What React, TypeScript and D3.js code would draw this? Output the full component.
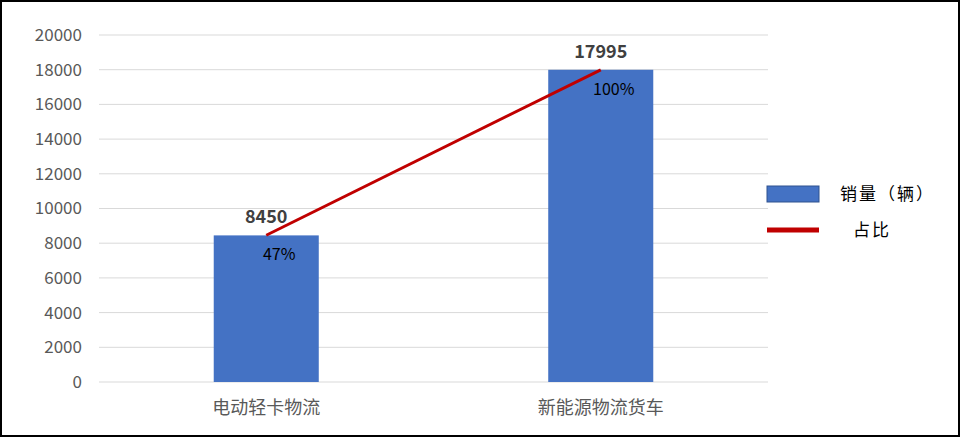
import React from "react";
import * as d3 from "d3";

const categories = ["电动轻卡物流", "新能源物流货车"];
const sales = [8450, 17995];
const shares = [47, 100];
const yTicks = [0, 2000, 4000, 6000, 8000, 10000, 12000, 14000, 16000, 18000, 20000];
const legendLabels = ["销量（辆）", "占比"];

const W = 961;
const H = 438;
const FONT = "'Noto Sans CJK SC', 'Noto Sans', sans-serif";

export default function App() {
  const left = 99, right = 768, top = 35, bottom = 382;
  const x = d3.scaleBand<string>().domain(categories).range([left, right]).padding(0);
  const barW = x.step() * 0.314;
  const y = d3.scaleLinear().domain([0, 20000]).range([bottom, top]);
  const y2 = d3.scaleLinear().domain([0, 100]).range([y(0), y(17995)]);
  const cx = (c: string) => (x(c) as number) + x.bandwidth() / 2;
  const line = d3.line<number>().x((_, i) => cx(categories[i])).y((d) => y2(d));

  return (
    <div style={{ position: "absolute", left: 0, top: 0 }}>
      <svg width={W} height={H} style={{ display: "block" }}>
        <rect x={0} y={0} width={W} height={H} fill="#fff" />
        <rect x={1} y={1} width={W - 3} height={H - 3} fill="none" stroke="#000" strokeWidth={2} />
        {yTicks.map((t) => (
          <g key={t}>
            <line x1={left} x2={right} y1={y(t)} y2={y(t)} stroke="#d9d9d9" strokeWidth={1} />
            <text x={82} y={y(t)} dy="0.35em" textAnchor="end" fontSize={17} fill="#595959" fontFamily={FONT}>
              {t}
            </text>
          </g>
        ))}
        {categories.map((c, i) => (
          <g key={c}>
            <rect x={cx(c) - barW / 2} y={y(sales[i])} width={barW} height={y(0) - y(sales[i])} fill="#4472C4" />
            <text x={cx(c)} y={y(sales[i]) - 12} textAnchor="middle" fontSize={18} fontWeight="bold" fill="#404040" fontFamily={FONT}>
              {sales[i]}
            </text>
            <text x={cx(c)} y={y(0)} dy={32} textAnchor="middle" fontSize={18} fill="#595959" fontFamily={FONT}>
              {c}
            </text>
          </g>
        ))}
        <path d={line(shares) || ""} fill="none" stroke="#C00000" strokeWidth={3} />
        {categories.map((c, i) => (
          <text key={c + "p"} x={cx(c) + 13} y={y2(shares[i]) + 25} textAnchor="middle" fontSize={16} fill="#000" fontFamily={FONT}>
            {shares[i]}%
          </text>
        ))}
        <rect x={767} y={186} width={52} height={16} fill="#4472C4" stroke="#2F528F" strokeWidth={1} />
        <text x={840} y={194} dy="0.35em" fontSize={17} letterSpacing={2} fill="#000" fontFamily={FONT}>
          {legendLabels[0]}
        </text>
        <line x1={767} x2={819} y1={230} y2={230} stroke="#C00000" strokeWidth={5} />
        <text x={853} y={230} dy="0.35em" fontSize={17} letterSpacing={2} fill="#000" fontFamily={FONT}>
          {legendLabels[1]}
        </text>
      </svg>
    </div>
  );
}
